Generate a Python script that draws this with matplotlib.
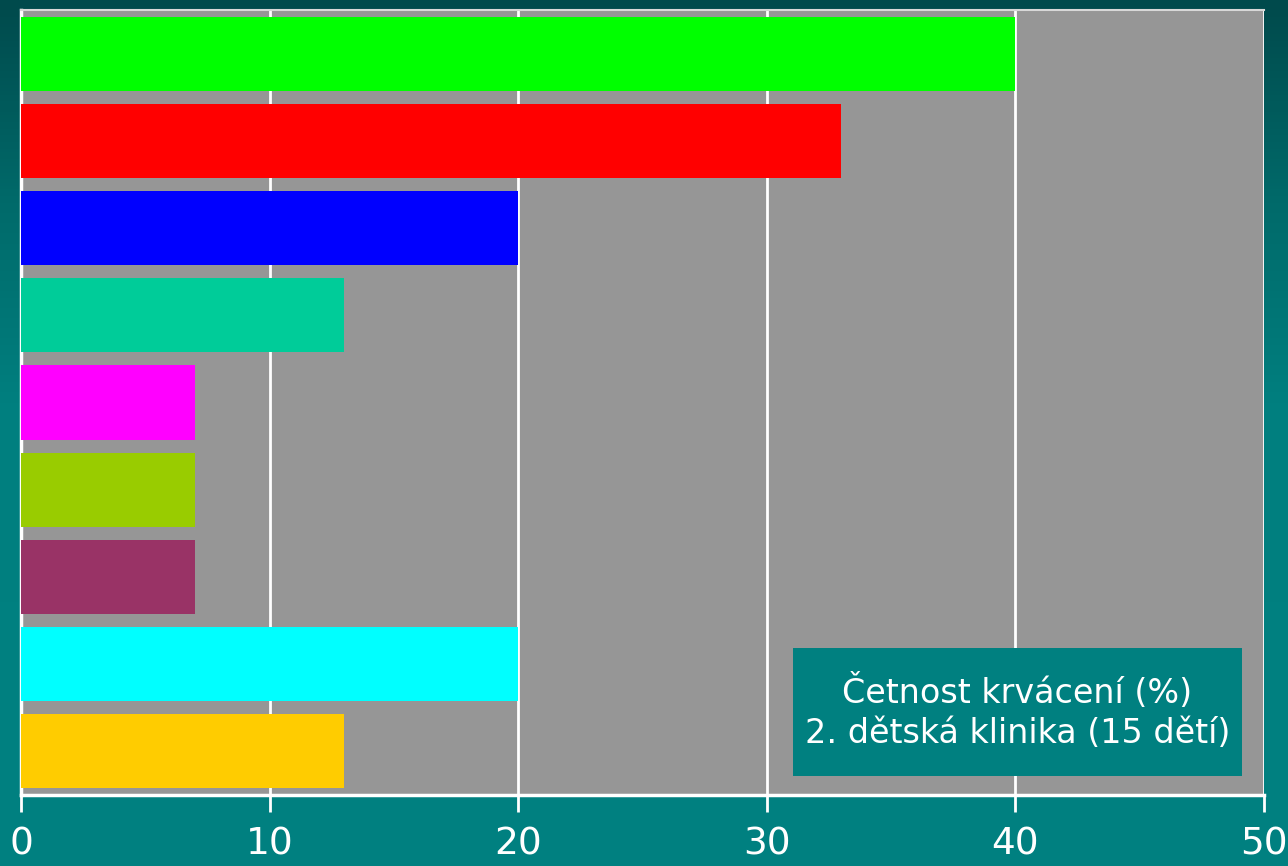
import matplotlib
matplotlib.use("Agg")
import matplotlib.pyplot as plt
import numpy as np
from matplotlib.colors import LinearSegmentedColormap

values = [40, 33, 20, 13, 7, 7, 7, 20, 13]
colors = ["#00FF00", "#FF0000", "#0000FF", "#00CC99", "#FF00FF",
          "#99CC00", "#993366", "#00FFFF", "#FFCC00"]
xticks = [0, 10, 20, 30, 40, 50]
box_text = "Četnost krvácení (%)\n2. dětská klinika (15 dětí)"

W, H = 1288, 866
fig = plt.figure(figsize=(W / 100, H / 100), dpi=100)

# background gradient
bg = fig.add_axes([0, 0, 1, 1])
bg.set_axis_off()
cmap = LinearSegmentedColormap.from_list("bgc", ["#004a4c", "#006a6a", "#007f7f", "#008080"])
grad = np.linspace(0, 1, 256).reshape(-1, 1)
grad = np.clip(grad / 0.7, 0, 1)
bg.imshow(grad, aspect="auto", cmap=cmap, extent=[0, 1, 0, 1], origin="upper")
bg.set_xlim(0, 1)
bg.set_ylim(0, 1)

left, right = 21 / W, 1264 / W
bottom, top = (H - 795) / H, (H - 10) / H
ax = fig.add_axes([left, bottom, right - left, top - bottom])
ax.set_facecolor("#969696")

y = np.arange(len(values))
ax.barh(y, values, height=0.85, color=colors, zorder=3)
ax.set_ylim(len(values) - 0.5, -0.5)
ax.set_xlim(0, 50)
ax.set_xticks(xticks)
ax.set_xticklabels([str(t) for t in xticks])
ax.set_yticks([])
ax.grid(axis="x", color="white", linewidth=2, zorder=1)
ax.tick_params(axis="x", length=12, width=2, color="white", labelcolor="white",
               labelsize=27, pad=11)
for s in ["left", "bottom"]:
    ax.spines[s].set_color("white")
    ax.spines[s].set_linewidth(2.5)
ax.spines["top"].set_color("#d8d8d8")
ax.spines["top"].set_linewidth(1.5)
ax.spines["right"].set_visible(False)
for lab in ax.get_xticklabels():
    lab.set_fontfamily("DejaVu Sans")

# text box
bx0, bx1 = 793, 1242
by0, by1 = 648, 776
fig.patches.append(plt.Rectangle((bx0 / W, 1 - by1 / H), (bx1 - bx0) / W, (by1 - by0) / H,
                                 transform=fig.transFigure, facecolor="#008080",
                                 edgecolor="none", zorder=5))
fig.text((bx0 + bx1) / 2 / W, 1 - (by0 + by1) / 2 / H, box_text, ha="center", va="center",
         color="white", fontsize=24, linespacing=1.25, zorder=6, family="DejaVu Sans")

fig.savefig("out.png", dpi=100)
